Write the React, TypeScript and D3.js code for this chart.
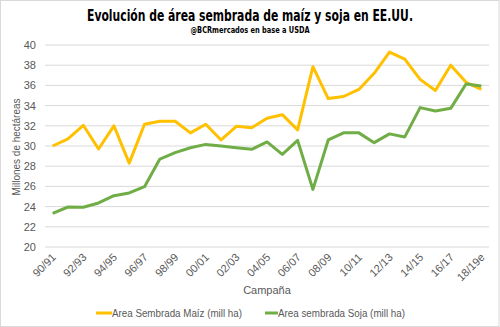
import React from "react";
import * as d3 from "d3";

const campaigns = [
  "90/91","91/92","92/93","93/94","94/95","95/96","96/97","97/98","98/99","99/00",
  "00/01","01/02","02/03","03/04","04/05","05/06","06/07","07/08","08/09","09/10",
  "10/11","11/12","12/13","13/14","14/15","15/16","16/17","17/18","18/19e",
];
const maize = [
  30.0, 30.7, 32.05, 29.7, 32.0, 28.3, 32.15, 32.45, 32.45, 31.3,
  32.15, 30.6, 31.95, 31.8, 32.75, 33.1, 31.6, 37.85, 34.7, 34.9,
  35.6, 37.2, 39.3, 38.6, 36.6, 35.5, 38.0, 36.3, 35.6,
];
const soy = [
  23.33, 23.96, 23.93, 24.36, 25.08, 25.35, 25.97, 28.71, 29.34, 29.83,
  30.16, 30.0, 29.83, 29.67, 30.4, 29.17, 30.56, 25.7, 30.6, 31.3,
  31.3, 30.33, 31.2, 30.9, 33.8, 33.47, 33.73, 36.14, 35.94,
];
const yTicks = [20, 22, 24, 26, 28, 30, 32, 34, 36, 38, 40];
const seriesNames = ["Area Sembrada Maíz (mill ha)", "Area sembrada Soja (mill ha)"];

const W = 500, H = 327;
const font = "'Liberation Sans', Arial, sans-serif";
const titleFont = "'DejaVu Sans Condensed', 'DejaVu Sans', sans-serif";

export default function App() {
  const x = d3.scaleBand<string>().domain(campaigns).range([45, 489]);
  const y = d3.scaleLinear().domain([20, 40]).range([247, 45]);
  const cx = (c: string) => (x(c) as number) + x.bandwidth() / 2;
  const line = d3.line<number>().x((_, i) => cx(campaigns[i])).y((d) => y(d));
  return (
    <svg width={W} height={H} style={{ position: "absolute", left: 0, top: 0, background: "#fff" }}>
      <rect x={0.5} y={0.5} width={W - 1.5} height={H - 1} fill="#fff" stroke="#d9d9d9" />
      <text x={250} y={21} textAnchor="middle" fontFamily={titleFont} fontWeight="bold" fontSize={16.5}
        textLength={326} lengthAdjust="spacingAndGlyphs" fill="#000">
        Evolución de área sembrada de maíz y soja en EE.UU.
      </text>
      <text x={250} y={33} textAnchor="middle" fontFamily={titleFont} fontWeight="bold" fontSize={9}
        textLength={119} lengthAdjust="spacingAndGlyphs" fill="#000">
        @BCRmercados en base a USDA
      </text>
      {yTicks.map((t) => (
        <g key={t}>
          <line x1={45} x2={489} y1={y(t)} y2={y(t)} stroke="#d9d9d9" strokeWidth={1} />
          <text x={36} y={y(t) + 4} textAnchor="end" fontFamily={font} fontSize={11} fill="#595959">{t}</text>
        </g>
      ))}
      <text transform="translate(19.5,147) rotate(-90)" textAnchor="middle" fontFamily={font} fontSize={11}
        fill="#595959" textLength={97} lengthAdjust="spacingAndGlyphs">Millones de hectáreas</text>
      {campaigns.map((c, i) =>
        i % 2 === 0 ? (
          <text key={c} transform={`translate(${cx(c) + 4},258) rotate(-45)`} textAnchor="end"
            fontFamily={font} fontSize={11} fill="#595959">{c}</text>
        ) : null
      )}
      <text x={267} y={294} textAnchor="middle" fontFamily={font} fontSize={11} fill="#595959">Campaña</text>
      <path d={line(maize) || ""} fill="none" stroke="#FFC000" strokeWidth={3} strokeLinejoin="round" />
      <path d={line(soy) || ""} fill="none" stroke="#70AD47" strokeWidth={3} strokeLinejoin="round" />
      <line x1={96} x2={112} y1={313} y2={313} stroke="#FFC000" strokeWidth={3} />
      <text x={112} y={317} fontFamily={font} fontSize={11} fill="#595959" textLength={130}
        lengthAdjust="spacingAndGlyphs">{seriesNames[0]}</text>
      <line x1={265} x2={278} y1={313} y2={313} stroke="#70AD47" strokeWidth={3} />
      <text x={278} y={317} fontFamily={font} fontSize={11} fill="#595959" textLength={127}
        lengthAdjust="spacingAndGlyphs">{seriesNames[1]}</text>
    </svg>
  );
}
